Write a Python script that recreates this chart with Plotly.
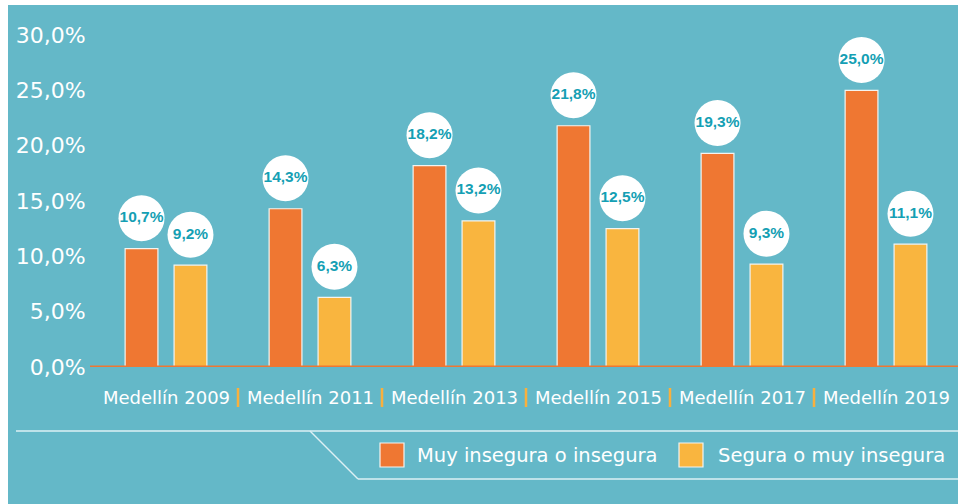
import plotly.graph_objects as go

categories = ["Medellín 2009", "Medellín 2011", "Medellín 2013", "Medellín 2015", "Medellín 2017", "Medellín 2019"]
series_names = ["Muy insegura o insegura", "Segura o muy insegura"]
insegura = [10.7, 14.3, 18.2, 21.8, 19.3, 25.0]
segura = [9.2, 6.3, 13.2, 12.5, 9.3, 11.1]
y_ticks = [0, 5, 10, 15, 20, 25, 30]
y_ticktext = ["0,0%", "5,0%", "10,0%", "15,0%", "20,0%", "25,0%", "30,0%"]

W, H = 958, 504
L, R, T, B = 94, 0, 35, 137
PW, PH = W - L - R, H - T - B

TEAL = "#64B8C8"
ORANGE = "#EF7732"
YELLOW = "#F9B53F"
LINE = "#DDF0F4"
LABEL = "#159FB4"
FONT = "DejaVu Sans"

def px(x):
    return (x - L) / PW

def py(y):
    return (H - B - y) / PH

idx = list(range(len(categories)))
off = 0.17

fig = go.Figure()
for name, vals, col in [(series_names[0], insegura, ORANGE), (series_names[1], segura, YELLOW)]:
    fig.add_trace(go.Bar(x=idx, y=vals, name=name, marker=dict(color=col, line=dict(color="#F4F4F0", width=1.2)),
                         showlegend=False, hoverinfo="skip"))

for vals, sgn in [(insegura, -1), (segura, 1)]:
    fig.add_trace(go.Scatter(
        x=[i + sgn * off for i in idx], y=[v + 2.75 for v in vals],
        mode="markers+text",
        marker=dict(size=46, color="white", line=dict(width=0)),
        text=[f"{v:.1f}%".replace(".", ",") for v in vals],
        textposition="middle center",
        textfont=dict(family="Liberation Sans", size=15.5, color=LABEL, weight="bold"),
        showlegend=False, hoverinfo="skip", cliponaxis=False))

shapes = []
# teal panel with white strip on top/left
shapes.append(dict(type="rect", xref="paper", yref="paper", x0=px(8), x1=px(W + 2), y0=py(5), y1=py(H + 2),
                   fillcolor=TEAL, line=dict(width=0), layer="below"))
# zero line
shapes.append(dict(type="line", xref="paper", yref="y", x0=px(90), x1=px(W), y0=0, y1=0,
                   line=dict(color=ORANGE, width=3)))
# separators between categories
for i in idx[:-1]:
    shapes.append(dict(type="line", xref="x", yref="paper", x0=i + 0.5, x1=i + 0.5, y0=py(388), y1=py(407),
                       line=dict(color="#F9B03D", width=2.5)))
# legend frame lines
shapes.append(dict(type="line", xref="paper", yref="paper", x0=px(16), x1=px(W), y0=py(431), y1=py(431),
                   line=dict(color=LINE, width=1.5)))
shapes.append(dict(type="line", xref="paper", yref="paper", x0=px(310), x1=px(358), y0=py(431), y1=py(479),
                   line=dict(color=LINE, width=1.5)))
shapes.append(dict(type="line", xref="paper", yref="paper", x0=px(358), x1=px(W), y0=py(479), y1=py(479),
                   line=dict(color=LINE, width=1.5)))
# legend squares
for (x0, x1), col in [((380, 404), ORANGE), ((679, 703), YELLOW)]:
    shapes.append(dict(type="rect", xref="paper", yref="paper", x0=px(x0), x1=px(x1), y0=py(443), y1=py(467),
                       fillcolor=col, line=dict(color="#F4F4F0", width=1.2)))

annotations = []
for i, c in zip(idx, categories):
    annotations.append(dict(x=i, y=py(397), xref="x", yref="paper", text=c, showarrow=False,
                            xanchor="center", yanchor="middle",
                            font=dict(family=FONT, size=18, color="white")))
for xs, name in [(415, series_names[0]), (716, series_names[1])]:
    annotations.append(dict(x=px(xs), y=py(455), xref="paper", yref="paper", text=name, showarrow=False,
                            xanchor="left", yanchor="middle",
                            font=dict(family=FONT, size=19.5, color="white")))

fig.update_layout(
    width=W, height=H,
    margin=dict(l=L, r=R, t=T, b=B, pad=0),
    paper_bgcolor="white", plot_bgcolor="rgba(0,0,0,0)",
    barmode="group", bargap=0.32, bargroupgap=0.33,
    shapes=shapes, annotations=annotations,
    xaxis=dict(range=[-0.5, 5.5], showticklabels=False, showgrid=False, zeroline=False, showline=False,
               tickvals=idx, ticks=""),
    yaxis=dict(range=[0, 30], tickvals=y_ticks, ticktext=y_ticktext, showgrid=False,
               zeroline=False, showline=False, ticks="outside", ticklen=3, tickcolor="rgba(0,0,0,0)",
               tickfont=dict(family=FONT, size=22, color="white")),
    font=dict(family=FONT),
)

fig.write_html("out.html", config={"displayModeBar": False},
               post_script="document.body.style.margin='0';document.body.style.overflow='hidden';")
